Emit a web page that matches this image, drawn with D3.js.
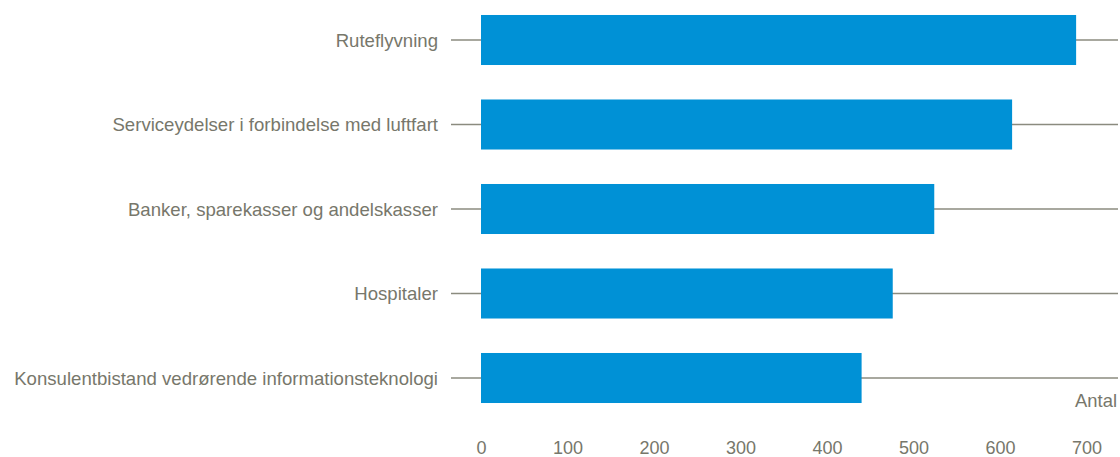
<!DOCTYPE html>
<html>
<head>
<meta charset="utf-8">
<script src="https://cdn.jsdelivr.net/npm/d3@7"></script>
<style>
  body { margin: 0; background: #fff; }
  text { font-family: "Liberation Sans", Arial, sans-serif; fill: #77776b; }
</style>
</head>
<body>
<svg id="chart"></svg>
<script>
// horizontal bar chart, antal per branche

var width = 1120;
var height = 457;

var categories = [
    "Ruteflyvning",
    "Serviceydelser i forbindelse med luftfart",
    "Banker, sparekasser og andelskasser",
    "Hospitaler",
    "Konsulentbistand vedrørende informationsteknologi"
];
var values = [688, 614, 524, 476, 440];
var ticks = [0, 100, 200, 300, 400, 500, 600, 700];
var unitLabel = "Antal";

var svg = d3.select("#chart")
    .attr("width", width)
    .attr("height", height);

// SCALES
var x = d3.scaleLinear()
    .domain([0, 700])
    .range([481, 1086.5]);

var y = d3.scaleBand()
    .domain(categories)
    .range([-2.25, 420.25])
    .paddingInner(0.408)
    .paddingOuter(0.204);

// GRID LINES through each category
svg.append("g").selectAll("line")
    .data(categories)
    .enter()
    .append("line")
    .attr("x1", 451)
    .attr("x2", 1118)
    .attr("y1", d => y(d) + y.bandwidth() / 2)
    .attr("y2", d => y(d) + y.bandwidth() / 2)
    .style("stroke", "#8b8b7f")
    .style("stroke-width", "1.5px");

// BARS
svg.append("g").selectAll("rect")
    .data(values)
    .enter()
    .append("rect")
    .attr("x", x(0))
    .attr("y", (d, i) => y(categories[i]))
    .attr("width", d => x(d) - x(0))
    .attr("height", y.bandwidth())
    .style("fill", "#0091d6");

// CATEGORY LABELS
svg.append("g").selectAll("text")
    .data(categories)
    .enter()
    .append("text")
    .attr("x", 438)
    .attr("y", d => y(d) + y.bandwidth() / 2)
    .attr("dy", "0.35em")
    .attr("text-anchor", "end")
    .style("font-size", "18.6px")
    .text(d => d);

// X AXIS tick labels
var xAxis = svg.append("g")
    .attr("transform", "translate(0,442)")
    .call(d3.axisBottom(x)
        .tickValues(ticks)
        .tickSize(0)
        .tickPadding(0));
xAxis.select(".domain").remove();
xAxis.selectAll("text")
    .attr("dy", "0.35em")
    .attr("y", 6)
    .style("font-size", "18px")
    .style("fill", "#77776b")
    .style("font-family", '"Liberation Sans", Arial, sans-serif');

// unit label
svg.append("text")
    .attr("x", 1117)
    .attr("y", 401)
    .attr("dy", "0.35em")
    .attr("text-anchor", "end")
    .style("font-size", "18.4px")
    .text(unitLabel);
</script>
</body>
</html>
